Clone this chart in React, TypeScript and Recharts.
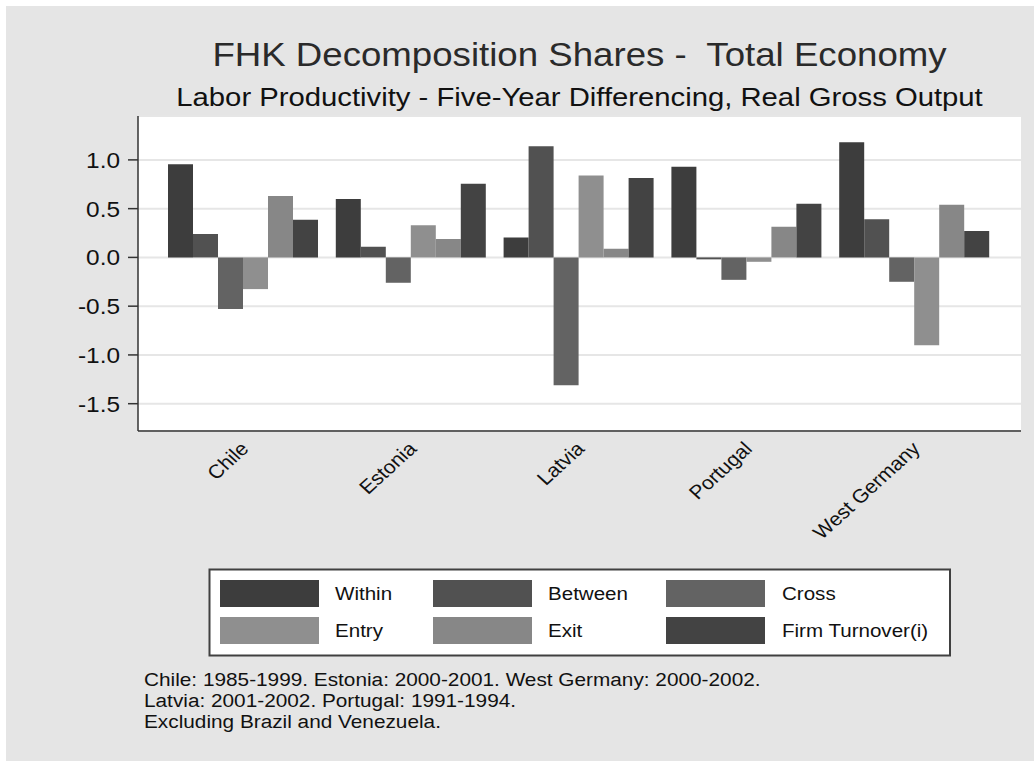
import React from 'react';
import { BarChart, Bar, XAxis, YAxis, CartesianGrid } from 'recharts';

const categories = ['Chile', 'Estonia', 'Latvia', 'Portugal', 'West Germany'];
const within = [0.955, 0.6, 0.205, 0.93, 1.18];
const between = [0.24, 0.11, 1.14, -0.02, 0.39];
const cross = [-0.53, -0.26, -1.31, -0.23, -0.25];
const entry = [-0.325, 0.33, 0.84, -0.045, -0.9];
const exitShare = [0.63, 0.19, 0.09, 0.315, 0.54];
const firmTurnover = [0.385, 0.755, 0.815, 0.55, 0.27];
const yTicks = [-1.5, -1.0, -0.5, 0.0, 0.5, 1.0];

const seriesNames = ['Within', 'Between', 'Cross', 'Entry', 'Exit', 'Firm Turnover(i)'];
const seriesKeys = ['within', 'between', 'cross', 'entry', 'exit', 'firmTurnover'];
const seriesColors = ['#3d3d3d', '#515151', '#636363', '#8f8f8f', '#878787', '#434343'];

const titleText = 'FHK Decomposition Shares -  Total Economy';
const subtitleText = 'Labor Productivity - Five-Year Differencing, Real Gross Output';
const noteLines = [
  'Chile: 1985-1999. Estonia: 2000-2001. West Germany: 2000-2002.',
  'Latvia: 2001-2002. Portugal: 1991-1994.',
  'Excluding Brazil and Venezuela.',
];

const data = categories.map((c, i) => ({
  name: c,
  within: within[i],
  between: between[i],
  cross: cross[i],
  entry: entry[i],
  exit: exitShare[i],
  firmTurnover: firmTurnover[i],
}));

const FONT = '"Liberation Sans", Arial, Helvetica, sans-serif';
const SX = 1.1;

const XTick = (props: any) => {
  const { x, y, payload } = props;
  return (
    <g transform={`translate(${x + 6},${y + 11}) scale(${SX},1)`}>
      <text x={0} y={0} textAnchor="end" transform="rotate(-45)" fontSize={19.2} fill="#111" fontFamily={FONT}>
        {payload.value}
      </text>
    </g>
  );
};

const YTick = (props: any) => {
  const { x, y, payload } = props;
  return (
    <g transform={`translate(${x},${y}) scale(${SX},1)`}>
      <text x={0} y={0} dy="0.36em" textAnchor="end" fontSize={22.2} fill="#111" fontFamily={FONT}>
        {Number(payload.value).toFixed(1)}
      </text>
    </g>
  );
};

const STxt = ({ x, y, size, anchor = 'start', color = '#111', children }: any) => (
  <g transform={`translate(${x},${y}) scale(${SX},1)`}>
    <text x={0} y={0} fontSize={size} textAnchor={anchor} fill={color} fontFamily={FONT} style={{ whiteSpace: 'pre' }} xmlSpace="preserve">
      {children}
    </text>
  </g>
);

export default function App() {
  const legendCols = [220, 433, 666];
  const legendLabelX = [335, 548, 782];
  const legendRows = [580, 617];
  return (
    <div style={{ position: 'absolute', left: 0, top: 0, width: 1034, height: 761, background: '#ffffff', overflow: 'hidden' }}>
      <div style={{ position: 'absolute', left: 6, top: 6, width: 1028, height: 755, background: '#e5e5e5' }} />
      <div style={{ position: 'absolute', left: 0, top: 0 }}>
        <BarChart
          width={1034}
          height={761}
          data={data}
          margin={{ top: 116, right: 13, left: 0, bottom: 210 }}
          barCategoryGap={8}
          barGap={0}
        >
          <CartesianGrid horizontal vertical={false} stroke="#e6e6e6" strokeWidth={2} fill="#ffffff" fillOpacity={1} />
          <XAxis
            dataKey="name"
            height={120}
            padding={{ left: 22, right: 22 }}
            tickLine={false}
            axisLine={{ stroke: '#333', strokeWidth: 1.5 }}
            tick={<XTick />}
            interval={0}
          />
          <YAxis
            width={138}
            domain={[-1.78, 1.45]}
            ticks={yTicks}
            allowDataOverflow
            tickSize={10}
            tickMargin={8}
            tickLine={{ stroke: '#333', strokeWidth: 1.5 }}
            axisLine={{ stroke: '#333', strokeWidth: 1.5 }}
            tick={<YTick />}
          />
          {seriesKeys.map((k, i) => (
            <Bar key={k} dataKey={k} name={seriesNames[i]} fill={seriesColors[i]} isAnimationActive={false} />
          ))}
        </BarChart>
      </div>
      <svg width={1034} height={761} style={{ position: 'absolute', left: 0, top: 0, pointerEvents: 'none' }}>
        <STxt x={579.5} y={65.5} size={33.3} anchor="middle" color="#2a2a2a">{titleText}</STxt>
        <STxt x={579.5} y={106} size={26.6} anchor="middle">{subtitleText}</STxt>
        <rect x={209.5} y={569.5} width={740.5} height={86} fill="#ffffff" stroke="#404040" strokeWidth={2} />
        {seriesNames.map((n, i) => {
          const col = i % 3;
          const row = Math.floor(i / 3);
          return (
            <g key={n}>
              <rect x={legendCols[col]} y={legendRows[row]} width={99} height={27} fill={seriesColors[i]} />
              <STxt x={legendLabelX[col]} y={legendRows[row] + 20} size={18.7}>{n}</STxt>
            </g>
          );
        })}
        {noteLines.map((l, i) => (
          <STxt key={i} x={144} y={685.7 + i * 21} size={18.9}>{l}</STxt>
        ))}
      </svg>
    </div>
  );
}
